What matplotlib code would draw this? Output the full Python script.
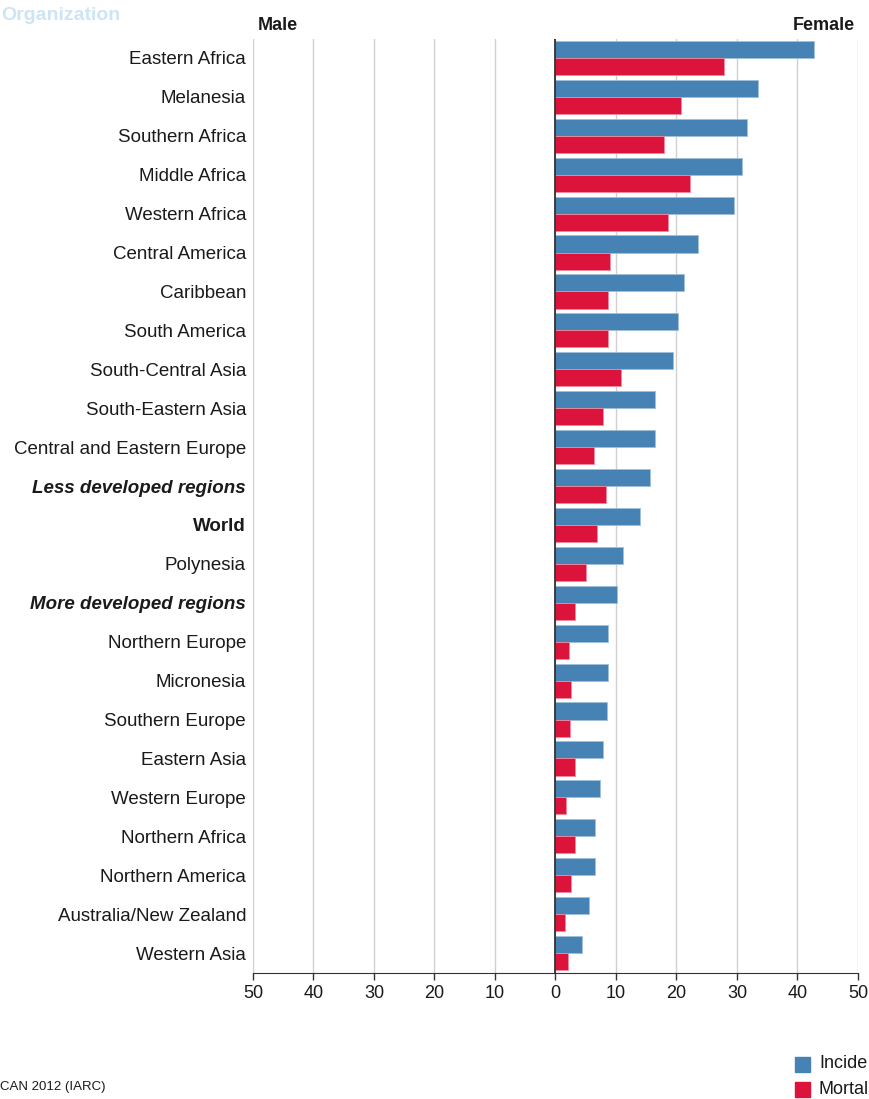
import matplotlib.pyplot as plt
import matplotlib.patches as mpatches
import numpy as np

regions = ["Eastern Africa", "Melanesia", "Southern Africa", "Middle Africa",
           "Western Africa", "Central America", "Caribbean", "South America",
           "South-Central Asia", "South-Eastern Asia", "Central and Eastern Europe",
           "Less developed regions", "World", "Polynesia", "More developed regions",
           "Northern Europe", "Micronesia", "Southern Europe", "Eastern Asia",
           "Western Europe", "Northern Africa", "Northern America",
           "Australia/New Zealand", "Western Asia"]

incidence = [42.8, 33.4, 31.7, 30.8, 29.5, 23.6, 21.2, 20.3,
             19.5, 16.4, 16.4, 15.7, 14.0, 11.2, 10.1,
             8.7, 8.7, 8.5, 7.8, 7.4, 6.6, 6.6, 5.5, 4.4]
mortality = [27.8, 20.8, 18.0, 22.3, 18.6, 9.0, 8.7, 8.7,
             10.9, 7.8, 6.4, 8.3, 6.8, 5.0, 3.3,
             2.2, 2.6, 2.4, 3.3, 1.8, 3.3, 2.6, 1.5, 2.0]

ticks = [-50, -40, -30, -20, -10, 0, 10, 20, 30, 40, 50]
tick_labels = ["50", "40", "30", "20", "10", "0", "10", "20", "30", "40", "50"]

blue = "#4682B4"
red = "#DC143C"
font = "Liberation Sans"
txt_col = "#1a1a1a"

W, H = 870, 1099
fig = plt.figure(figsize=(W / 100, H / 100), dpi=100)
left, right, top, bottom = 253, 858, 38.5, 972.5
ax = fig.add_axes([left / W, 1 - bottom / H, (right - left) / W, (bottom - top) / H])

y = np.arange(len(regions))
ax.barh(y - 0.22, incidence, height=0.44, color=blue, edgecolor="#9fbfdc", linewidth=0.6, zorder=3)
ax.barh(y + 0.22, mortality, height=0.44, color=red, edgecolor="#f08aa0", linewidth=0.6, zorder=3)

ax.set_xlim(-50, 50)
ax.set_ylim(len(regions) - 0.5, -0.5)
ax.set_xticks(ticks)
ax.set_xticklabels(tick_labels, fontsize=13, family=font, color=txt_col)
ax.tick_params(axis="x", length=5, width=1, color="#333333", pad=4)
ax.xaxis.grid(True, color="#d0d0d0", linewidth=1, zorder=0)
ax.axvline(0, color="#222222", linewidth=1.2, zorder=4)

ax.set_yticks(y)
ax.set_yticklabels(regions, fontsize=13.5, family=font, color=txt_col)
ax.tick_params(axis="y", length=0, pad=5)
for lbl in ax.get_yticklabels():
    if lbl.get_text() in ("Less developed regions", "More developed regions"):
        lbl.set_fontweight("bold")
        lbl.set_fontstyle("italic")
    elif lbl.get_text() == "World":
        lbl.set_fontweight("bold")

for s in ["top", "left", "right"]:
    ax.spines[s].set_visible(False)
ax.spines["bottom"].set_color("#333333")

# side headers
fig.text(258 / W, 1 - 25 / H, "Male", fontsize=13, fontweight="bold", family=font,
         color=txt_col, ha="left", va="center")
fig.text(855 / W, 1 - 25 / H, "Female", fontsize=13, fontweight="bold", family=font,
         color=txt_col, ha="right", va="center")

# faded logo text (only its lower line is visible in the source image)
fig.text(1 / W, 1 - 16 / H, "Organization", fontsize=14, fontweight="bold",
         family=font, color="#cde4f5", ha="left", va="center")

# source note, visible part only
fig.text(0, 1 - 1087 / H, "CAN 2012 (IARC)", fontsize=9.5, family=font,
         color=txt_col, ha="left", va="center")

# legend, visible part only
for yy, col, txt in [(1064, blue, "Incide"), (1089, red, "Mortal")]:
    fig.patches.append(mpatches.Rectangle((795 / W, 1 - (yy + 8) / H), 15 / W, 15 / H,
                                          transform=fig.transFigure, color=col))
    fig.text(819 / W, 1 - yy / H, txt, fontsize=13, family=font, color=txt_col,
             ha="left", va="center")

fig.savefig("out.png", dpi=100)
